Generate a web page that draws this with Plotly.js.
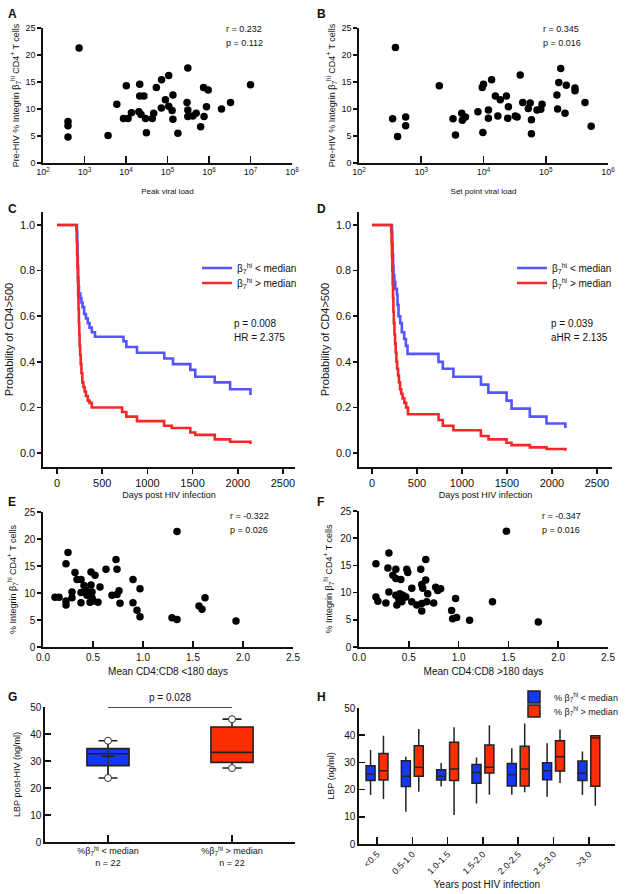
<!DOCTYPE html>
<html><head><meta charset="utf-8">
<script src="https://cdn.plot.ly/plotly-3.0.1.min.js"></script>
<style>html,body{margin:0;padding:0;background:#fff}#chart{width:625px;height:894px}</style>
</head><body><div id="chart"></div>
<script>
// ---------- DATA ----------
// Panel A: peak viral load vs pre-HIV % integrin b7hi CD4+ T cells
const peakVL = [740, 400, 400, 400, 3700, 6000, 10200, 8700, 11200, 13500, 21400, 21400, 27000, 20400, 31000, 29500, 46500, 43000, 54000, 72000, 71000, 107000, 107000, 129000, 135000, 89000, 178000, 135000, 309000, 295000, 309000, 309000, 407000, 490000, 630000, 760000, 870000, 740000, 955000, 2000000, 3300000, 10000000, 23000];
const peakB7 = [21.3, 7.7, 6.9, 4.8, 5.1, 10.9, 14.3, 8.25, 8.25, 9.3, 14.6, 12.4, 12.4, 9.5, 5.6, 8.25, 9.2, 8.25, 14.0, 15.4, 10.2, 16.2, 10.5, 9.7, 8.1, 11.7, 5.5, 12.6, 17.6, 11.2, 9.8, 8.6, 8.7, 9.2, 6.7, 8.6, 10.4, 14.0, 13.5, 10.0, 11.2, 14.5, 9.0];
// Panel B: set point viral load
const setVL = [385, 347, 417, 562, 562, 1950, 3240, 3550, 4470, 4570, 5130, 8130, 9550, 10000, 9770, 12000, 12000, 13500, 15500, 18600, 17000, 23400, 25100, 24500, 32400, 34700, 38900, 42700, 52500, 56200, 58900, 58900, 72400, 83200, 87100, 151000, 155000, 162000, 174000, 204000, 214000, 295000, 295000, 427000, 537000];
const setB7 = [21.4, 8.2, 4.9, 8.5, 6.9, 14.3, 8.2, 5.2, 9.2, 7.9, 8.5, 9.5, 14.0, 14.6, 5.65, 9.8, 8.3, 15.4, 12.4, 11.7, 8.7, 12.4, 10.4, 8.3, 8.7, 8.5, 16.3, 11.2, 10.1, 11.1, 8.0, 5.4, 9.8, 9.95, 10.9, 12.6, 10.0, 14.9, 17.5, 9.2, 14.4, 13.9, 13.4, 11.2, 6.8];
// Panel C: Kaplan-Meier, probability of CD4>500
const kmC_lowDays  = [0, 221, 224, 227, 230, 234, 238, 243, 258, 270, 282, 300, 320, 340, 360, 385, 420, 735, 767, 885, 1187, 1283, 1475, 1530, 1745, 1915, 2140];
const kmC_lowSurv  = [1.0, 0.97, 0.92, 0.87, 0.82, 0.77, 0.73, 0.70, 0.68, 0.66, 0.64, 0.61, 0.59, 0.57, 0.55, 0.53, 0.51, 0.49, 0.465, 0.44, 0.415, 0.39, 0.365, 0.335, 0.31, 0.28, 0.255];
const kmC_highDays = [0, 214, 218, 222, 226, 230, 234, 238, 242, 246, 250, 256, 262, 270, 280, 292, 305, 320, 340, 360, 385, 720, 767, 885, 1185, 1270, 1475, 1530, 1745, 1915, 2140];
const kmC_highSurv = [1.0, 0.98, 0.93, 0.87, 0.81, 0.75, 0.69, 0.63, 0.57, 0.52, 0.47, 0.43, 0.39, 0.35, 0.31, 0.29, 0.27, 0.25, 0.23, 0.22, 0.20, 0.18, 0.16, 0.14, 0.12, 0.11, 0.09, 0.08, 0.06, 0.05, 0.04];
// Panel D: adjusted
const kmD_lowDays  = [0, 222, 226, 230, 235, 240, 248, 259, 277, 284, 295, 314, 332, 358, 377, 395, 739, 787, 905, 1211, 1293, 1496, 1551, 1754, 1939, 2149];
const kmD_lowSurv  = [1.0, 0.97, 0.92, 0.87, 0.82, 0.78, 0.75, 0.72, 0.695, 0.65, 0.60, 0.57, 0.53, 0.50, 0.47, 0.435, 0.40, 0.37, 0.335, 0.30, 0.265, 0.23, 0.195, 0.16, 0.13, 0.11];
const kmD_highDays = [0, 214, 218, 222, 226, 230, 234, 238, 243, 250, 257, 264, 272, 280, 290, 300, 312, 325, 340, 360, 380, 400, 740, 787, 905, 1210, 1295, 1495, 1550, 1755, 1940, 2150];
const kmD_highSurv = [1.0, 0.97, 0.92, 0.86, 0.80, 0.74, 0.68, 0.62, 0.57, 0.52, 0.48, 0.44, 0.40, 0.37, 0.34, 0.31, 0.28, 0.26, 0.24, 0.22, 0.20, 0.17, 0.145, 0.12, 0.10, 0.075, 0.06, 0.045, 0.035, 0.025, 0.018, 0.01];
// Panel E: mean CD4:CD8 <180 days
const ratioE = [0.12, 0.16, 0.23, 0.25, 0.23, 0.23, 0.32, 0.34, 0.38, 0.29, 0.29, 0.38, 0.38, 0.41, 0.43, 0.44, 0.47, 0.48, 0.48, 0.49, 0.49, 0.52, 0.50, 0.55, 0.57, 0.63, 0.69, 0.73, 0.74, 0.74, 0.76, 0.77, 0.90, 0.90, 0.94, 0.97, 0.97, 1.29, 1.34, 1.34, 1.56, 1.59, 1.62, 1.93];
const b7E    = [9.2, 9.2, 15.4, 17.5, 8.5, 7.8, 13.8, 12.5, 12.5, 10.2, 9.1, 10.1, 8.2, 11.4, 10.5, 9.6, 8.3, 13.9, 11.5, 10.2, 9.1, 13.3, 8.5, 8.3, 11.1, 14.4, 9.6, 16.2, 14.4, 9.7, 10.4, 8.1, 12.5, 8.2, 6.8, 10.8, 5.6, 5.4, 5.1, 21.4, 7.6, 7.0, 9.1, 4.8];
// Panel F: mean CD4:CD8 >180 days
const ratioF = [0.17, 0.17, 0.19, 0.30, 0.29, 0.30, 0.27, 0.34, 0.37, 0.37, 0.38, 0.40, 0.42, 0.41, 0.37, 0.44, 0.47, 0.48, 0.49, 0.43, 0.53, 0.53, 0.58, 0.63, 0.63, 0.62, 0.63, 0.64, 0.67, 0.67, 0.68, 0.69, 0.75, 0.77, 0.79, 0.82, 0.93, 0.94, 0.97, 0.98, 1.11, 1.34, 1.48, 1.80];
const b7F    = [15.3, 9.2, 8.4, 17.3, 14.5, 10.1, 8.1, 13.2, 14.3, 12.6, 7.7, 8.8, 12.4, 9.8, 9.5, 9.5, 9.2, 14.3, 13.7, 8.3, 10.8, 8.3, 7.7, 8.0, 6.6, 14.3, 11.5, 10.8, 16.1, 12.3, 8.3, 9.8, 8.1, 11.0, 10.4, 10.7, 6.7, 5.2, 8.9, 5.4, 4.9, 8.3, 21.3, 4.6];
// Panel G: LBP post-HIV by b7hi group (box summary)
const gCats  = ['%β<sub>7</sub><sup>hi</sup> &lt; median<br>n = 22', '%β<sub>7</sub><sup>hi</sup> &gt; median<br>n = 22'];
const gLow   = [23.7, 27.4];
const gQ1    = [28.3, 29.5];
const gMed   = [32.7, 33.2];
const gQ3    = [34.6, 42.6];
const gHigh  = [37.5, 45.5];
const gMean  = [31.7];
const gPText = 'p = 0.028';
const gBracketY = [50, 50];
// Panel H: LBP by years post HIV infection
const hCats = ['<0.5', '0.5-1.0', '1.0-1.5', '1.5-2.0', '2.0-2.5', '2.5-3.0', '>3.0'];
const hLowLow  = [18.0, 11.9, 21.1, 14.9, 18.1, 17.4, 18.0];
const hLowQ1   = [23.3, 21.1, 23.5, 22.3, 21.3, 23.6, 23.3];
const hLowMed  = [25.7, 24.9, 24.9, 26.3, 25.5, 26.9, 26.0];
const hLowQ3   = [28.8, 30.6, 27.3, 29.2, 29.6, 29.9, 30.5];
const hLowHigh = [34.6, 32.1, 29.8, 31.8, 35.2, 37.0, 34.0];
const hHighLow  = [16.5, 19.2, 10.7, 18.1, 19.0, 22.4, 14.1];
const hHighQ1   = [23.5, 24.9, 23.3, 26.1, 21.3, 26.8, 21.2];
const hHighMed  = [26.9, 28.2, 27.6, 28.2, 27.6, 32.1, 39.0];
const hHighQ3   = [33.3, 36.1, 37.4, 36.4, 35.9, 38.0, 39.8];
const hHighHigh = [39.8, 42.3, 42.9, 43.7, 44.3, 42.1, 40.1];
// Tick labels
const logTicksA = [1e2, 1e3, 1e4, 1e5, 1e6, 1e7, 1e8];
const logTextA  = ['10<sup>2</sup>', '10<sup>3</sup>', '10<sup>4</sup>', '10<sup>5</sup>', '10<sup>6</sup>', '10<sup>7</sup>', '10<sup>8</sup>'];
const logTicksB = [1e2, 1e3, 1e4, 1e5, 1e6];
const logTextB  = ['10<sup>2</sup>', '10<sup>3</sup>', '10<sup>4</sup>', '10<sup>5</sup>', '10<sup>6</sup>'];
const dayTicks  = [0, 500, 1000, 1500, 2000, 2500];
const probTicks = [0, 0.2, 0.4, 0.6, 0.8, 1.0];

// ---------- STYLE ----------
const FONT = 'Liberation Sans, Arial, Helvetica, sans-serif';
const INK = '#111';
const BLUE_KM = 'rgb(85,85,255)';
const RED_KM = 'rgb(245,40,40)';
const BLUE_BOX = 'rgb(20,55,250)';
const RED_BOX = 'rgb(255,45,0)';
const W = 625, H = 894;
const dx = (a, b) => [a / W, b / W];
const dy = (top, bottom) => [1 - bottom / H, 1 - top / H];
const f = s => ({family: FONT, size: s, color: INK});

function ax(o) {
  return Object.assign({
    showline: true, linecolor: INK, linewidth: 1.6, showgrid: false, zeroline: false,
    ticks: 'outside', ticklen: 4, tickwidth: 1.6, tickcolor: INK,
    tickfont: f(10), fixedrange: true
  }, o);
}
function ttl(text, size, standoff) {
  return {text: text, font: f(size), standoff: standoff};
}
const dot = {color: '#000', size: 7.5};
const b7label = 'Integrin β<sub>7</sub><sup>hi</sup> CD4<sup>+</sup> T cells';
const lowName = 'β<sub>7</sub><sup>hi</sup> &lt; median';
const highName = 'β<sub>7</sub><sup>hi</sup> &gt; median';

const traces = [];
// A
traces.push({type: 'scatter', mode: 'markers', x: peakVL, y: peakB7, xaxis: 'x', yaxis: 'y', marker: dot, showlegend: false});
// B
traces.push({type: 'scatter', mode: 'markers', x: setVL, y: setB7, xaxis: 'x2', yaxis: 'y2', marker: dot, showlegend: false});
// C
traces.push({type: 'scatter', mode: 'lines', x: kmC_lowDays, y: kmC_lowSurv, xaxis: 'x3', yaxis: 'y3', line: {shape: 'hv', color: BLUE_KM, width: 2.6}, name: lowName, legend: 'legend'});
traces.push({type: 'scatter', mode: 'lines', x: kmC_highDays, y: kmC_highSurv, xaxis: 'x3', yaxis: 'y3', line: {shape: 'hv', color: RED_KM, width: 2.6}, name: highName, legend: 'legend4'});
// D
traces.push({type: 'scatter', mode: 'lines', x: kmD_lowDays, y: kmD_lowSurv, xaxis: 'x4', yaxis: 'y4', line: {shape: 'hv', color: BLUE_KM, width: 2.6}, name: lowName, legend: 'legend2'});
traces.push({type: 'scatter', mode: 'lines', x: kmD_highDays, y: kmD_highSurv, xaxis: 'x4', yaxis: 'y4', line: {shape: 'hv', color: RED_KM, width: 2.6}, name: highName, legend: 'legend5'});
// E, F
traces.push({type: 'scatter', mode: 'markers', x: ratioE, y: b7E, xaxis: 'x5', yaxis: 'y5', marker: dot, showlegend: false});
traces.push({type: 'scatter', mode: 'markers', x: ratioF, y: b7F, xaxis: 'x6', yaxis: 'y6', marker: dot, showlegend: false});
// G boxes
[0, 1].forEach(i => {
  traces.push({type: 'box', x: [gCats[i]], q1: [gQ1[i]], median: [gMed[i]], q3: [gQ3[i]], lowerfence: [gLow[i]], upperfence: [gHigh[i]],
    xaxis: 'x7', yaxis: 'y7', fillcolor: i === 0 ? BLUE_BOX : RED_BOX, line: {color: '#222', width: 1.6},
    whiskerwidth: 0.45, width: 0.34, offsetgroup: 'g', showlegend: false, hoverinfo: 'skip'});
});
// G whisker through blue box, mean marker, whisker-end circles
traces.push({type: 'scatter', mode: 'lines', x: [gCats[0], gCats[0]], y: [gLow[0], gHigh[0]], xaxis: 'x7', yaxis: 'y7', line: {color: '#333', width: 1.6}, showlegend: false});
traces.push({type: 'scatter', mode: 'markers', x: [gCats[0]], y: gMean, xaxis: 'x7', yaxis: 'y7', marker: {symbol: 'line-ew', size: 10, line: {color: '#222', width: 1.6}}, showlegend: false});
traces.push({type: 'scatter', mode: 'markers', x: [gCats[0], gCats[0], gCats[1], gCats[1]], y: [gLow[0], gHigh[0], gLow[1], gHigh[1]], xaxis: 'x7', yaxis: 'y7',
  marker: {color: '#fff', size: 7, line: {color: '#333', width: 1}}, showlegend: false});
// G bracket
traces.push({type: 'scatter', mode: 'lines', x: gCats, y: gBracketY, xaxis: 'x7', yaxis: 'y7', line: {color: INK, width: 1.4}, showlegend: false, cliponaxis: false});
// H boxes
traces.push({type: 'box', x: hCats, q1: hLowQ1, median: hLowMed, q3: hLowQ3, lowerfence: hLowLow, upperfence: hLowHigh,
  xaxis: 'x8', yaxis: 'y8', fillcolor: BLUE_BOX, line: {color: '#222', width: 1.5}, whiskerwidth: 0, offsetgroup: 'lo',
  name: '% ' + lowName, legend: 'legend3', hoverinfo: 'skip'});
traces.push({type: 'box', x: hCats, q1: hHighQ1, median: hHighMed, q3: hHighQ3, lowerfence: hHighLow, upperfence: hHighHigh,
  xaxis: 'x8', yaxis: 'y8', fillcolor: RED_BOX, line: {color: '#222', width: 1.5}, whiskerwidth: 0, offsetgroup: 'hi',
  name: '% ' + highName, legend: 'legend6', hoverinfo: 'skip'});

function lg(x, y, size) {
  return {bgcolor: 'rgba(0,0,0,0)', font: f(size), xanchor: 'left', yanchor: 'middle', x: x / W, y: 1 - y / H, itemclick: false};
}

const layout = {
  width: W, height: H, margin: {l: 0, r: 0, t: 0, b: 0}, paper_bgcolor: '#fff', plot_bgcolor: 'rgba(0,0,0,0)',
  font: {family: FONT, color: INK}, showlegend: true, boxmode: 'group', boxgap: 0.27, boxgroupgap: 0.3,
  legend: lg(197, 268, 10), legend4: lg(197, 283, 10),
  legend2: lg(512, 268, 10), legend5: lg(512, 283, 10),
  legend3: lg(514, 697, 9), legend6: lg(514, 711, 9),
  // A
  xaxis: ax({domain: dx(43, 292), anchor: 'y', type: 'log', range: [2, 8], tickvals: logTicksA, ticktext: logTextA, ticks: 'inside', ticklen: 7, tickfont: f(9), title: ttl('Peak viral load', 8, 12)}),
  yaxis: ax({domain: dy(28, 163), anchor: 'x', range: [0, 25], dtick: 5, tickfont: f(9), title: ttl('Pre-HIV % ' + b7label, 9, 4)}),
  // B
  xaxis2: ax({domain: dx(359, 608), anchor: 'y2', type: 'log', range: [2, 6], tickvals: logTicksB, ticktext: logTextB, ticks: 'inside', ticklen: 7, tickfont: f(9), title: ttl('Set point viral load', 8, 12)}),
  yaxis2: ax({domain: dy(28, 163), anchor: 'x2', range: [0, 25], dtick: 5, tickfont: f(9), title: ttl('Pre-HIV % ' + b7label, 9, 4)}),
  // C
  xaxis3: ax({domain: dx(43, 295), anchor: 'y3', range: [-155, 2633], tickvals: dayTicks, ticklen: 5, tickfont: f(11), title: ttl('Days post HIV infection', 9, 4)}),
  yaxis3: ax({domain: dy(212, 467), anchor: 'x3', range: [-0.061, 1.057], tickvals: probTicks, tickformat: '.1f', tickfont: f(11), title: ttl('Probability of CD4>500', 11, 4)}),
  // D
  xaxis4: ax({domain: dx(359, 612), anchor: 'y4', range: [-144, 2667], tickvals: dayTicks, ticklen: 5, tickfont: f(11), title: ttl('Days post HIV infection', 9, 4)}),
  yaxis4: ax({domain: dy(212, 467), anchor: 'x4', range: [-0.061, 1.057], tickvals: probTicks, tickformat: '.1f', tickfont: f(11), title: ttl('Probability of CD4>500', 11, 4)}),
  // E
  xaxis5: ax({domain: dx(43, 293), anchor: 'y5', range: [0, 2.5], dtick: 0.5, tickformat: '.1f', ticks: 'inside', ticklen: 6, title: ttl('Mean CD4:CD8 &lt;180 days', 10, 6)}),
  yaxis5: ax({domain: dy(512, 647), anchor: 'x5', range: [0, 25], dtick: 5, title: ttl('% ' + b7label, 9, 6)}),
  // F
  xaxis6: ax({domain: dx(359, 608), anchor: 'y6', range: [0, 2.5], dtick: 0.5, tickformat: '.1f', ticks: 'inside', ticklen: 6, title: ttl('Mean CD4:CD8 &gt;180 days', 10, 6)}),
  yaxis6: ax({domain: dy(511, 647), anchor: 'x6', range: [0, 25], dtick: 5, title: ttl('% ' + b7label, 9, 6)}),
  // G
  xaxis7: ax({domain: dx(45, 295), anchor: 'y7', type: 'category', categoryorder: 'array', categoryarray: gCats, range: [-0.508, 1.508], ticks: 'inside', ticklen: 7, tickfont: f(9)}),
  yaxis7: ax({domain: dy(707, 842), anchor: 'x7', range: [0, 50], dtick: 10, ticks: 'inside', ticklen: 6, tickfont: f(10), title: ttl('LBP post-HIV (ng/ml)', 9, 8)}),
  // H
  xaxis8: ax({domain: dx(359, 615), anchor: 'y8', type: 'category', categoryorder: 'array', categoryarray: hCats, range: [-0.51, 6.74], ticks: 'inside', ticklen: 7, tickangle: -45, tickfont: f(9), title: ttl('Years post HIV infection', 10, 5)}),
  yaxis8: ax({domain: dy(708, 844), anchor: 'x8', range: [0, 50], dtick: 10, ticks: 'inside', ticklen: 6, tickfont: f(10), title: ttl('LBP (ng/ml)', 9, 8)}),
  annotations: []
};

function note(text, x, y, size, bold, anchor) {
  layout.annotations.push({text: bold ? '<b>' + text + '</b>' : text, x: x / W, y: 1 - y / H, xref: 'paper', yref: 'paper',
    xanchor: anchor || 'left', yanchor: 'middle', showarrow: false, font: f(size)});
}
// panel letters
note('A', 6, 14, 12, true); note('B', 315, 14, 12, true);
note('C', 6, 209, 12, true); note('D', 315, 209, 12, true);
note('E', 6, 502, 12, true); note('F', 315, 502, 12, true);
note('G', 6, 697, 12, true); note('H', 315, 697, 12, true);
// stats
note('r = 0.232', 224, 29, 9); note('p = 0.112', 224, 43, 9);
note('r = 0.345', 541, 29, 9); note('p = 0.016', 541, 43, 9);
note('p = 0.008', 232, 323, 10); note('HR = 2.375', 232, 338, 10);
note('p = 0.039', 549, 323, 10); note('aHR = 2.135', 549, 338, 10);
note('r = -0.322', 228, 516, 9); note('p = 0.026', 228, 530, 9);
note('r = -0.347', 540, 516, 9); note('p = 0.016', 540, 530, 9);
layout.annotations.push({text: gPText, xref: 'x7', yref: 'y7', x: 0.5, y: gBracketY[0], yanchor: 'bottom', yshift: 2, showarrow: false, font: f(10)});

Plotly.newPlot('chart', traces, layout, {staticPlot: true, displayModeBar: false});
</script>
</body></html>
